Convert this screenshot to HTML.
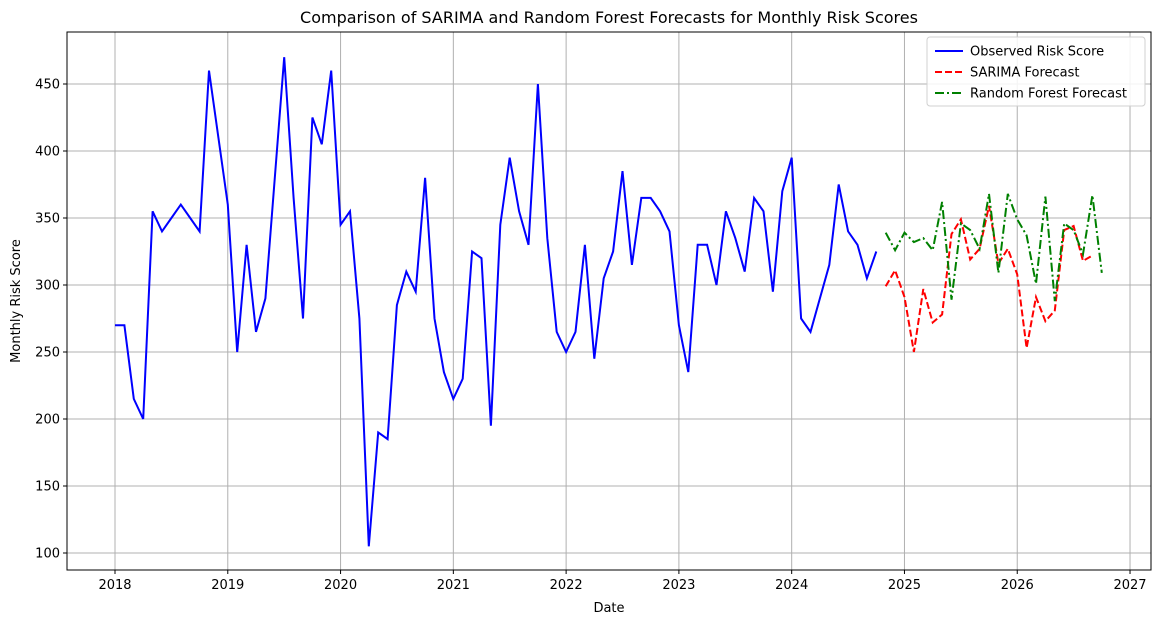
<!DOCTYPE html>
<html><head><meta charset="utf-8"><style>
body{margin:0;background:#fff;font-family:"Liberation Sans","DejaVu Sans",sans-serif}
svg text{font-family:"DejaVu Sans","Liberation Sans",sans-serif}
</style></head><body>
<svg id="c" width="1160" height="624" xmlns="http://www.w3.org/2000/svg"></svg>
<script>
const observedStartYear = 2018;
const observed = [270,270,215,200,355,340,350,360,350,340,460,410,
360,250,330,265,290,380,470,365,275,425,405,460,
345,355,275,105,190,185,285,310,295,380,275,235,
215,230,325,320,195,345,395,355,330,450,335,265,
250,265,330,245,305,325,385,315,365,365,355,340,
270,235,330,330,300,355,335,310,365,355,295,370,
395,275,265,290,315,375,340,330,305,325];
const forecastStartMonth = 82; // months after Jan 2018 (Nov 2024)
const sarima = [299,311,291,250,297,272,278,338,349,319,327,359,316,327,308,253,291,273,281,341,344,318,322];
const rf = [339,326,339,332,335,326,362,289,346,341,327,368,309,368,349,337,301,366,288,346,341,323,367,309];
const xTicks = [2018,2019,2020,2021,2022,2023,2024,2025,2026,2027];
const yTicks = [100,150,200,250,300,350,400,450];

const NS="http://www.w3.org/2000/svg", svg=document.getElementById('c');
const L=67,R=1151,T=32,B=570;
const xs = yr => 115 + (yr-2018)*112.78;
const xm = m => xs(observedStartYear + m/12);
const ys = v => 553 - (v-100)*1.34;
function mk(tag, attrs, parent){const e=document.createElementNS(NS,tag);for(const k in attrs)e.setAttribute(k,attrs[k]);(parent||svg).appendChild(e);return e;}

const grid=mk('g',{});


xTicks.forEach(t=>{
  const x=xs(t);
  mk('line',{x1:x,x2:x,y1:T,y2:B,stroke:'#b0b0b0','stroke-width':1},grid);
  mk('line',{x1:x,x2:x,y1:B,y2:B+4,stroke:'#000'},grid);
  const tx=mk('text',{x:x,y:B+19,'text-anchor':'middle','font-size':13},grid);
  tx.textContent=t;
  
  
});
yTicks.forEach(t=>{
  const y=ys(t);
  mk('line',{x1:L,x2:R,y1:y,y2:y,stroke:'#b0b0b0','stroke-width':1},grid);
  mk('line',{x1:L-4,x2:L,y1:y,y2:y,stroke:'#000'},grid);
  const tx=mk('text',{x:L-7,y:y+4.5,'text-anchor':'end','font-size':13},grid);
  tx.textContent=t;
  
  
});

function line(vals, start, color, dash, name){
  const p=mk('polyline',{points:vals.map((v,i)=>xm(start+i).toFixed(1)+','+ys(v).toFixed(1)).join(' '),fill:'none',stroke:color,'stroke-width':2,'stroke-dasharray':dash});
  
  
}
line(observed,0,'#0000ff','none','observed-line');
line(sarima,forecastStartMonth,'#ff0000','7,3','sarima-line');
line(rf,forecastStartMonth,'#008000','9,3,2,3','rf-line');

const fr=mk('rect',{x:L,y:T,width:R-L,height:B-T,fill:'none',stroke:'#000','stroke-width':1});



const ti=mk('text',{x:(L+R)/2,y:23,'text-anchor':'middle','font-size':16});
ti.textContent='Comparison of SARIMA and Random Forest Forecasts for Monthly Risk Scores';


const xl=mk('text',{x:(L+R)/2,y:612,'text-anchor':'middle','font-size':13});
xl.textContent='Date';


const yl=mk('text',{x:0,y:0,'text-anchor':'middle','font-size':13,transform:'translate(20,301) rotate(-90)'});
yl.textContent='Monthly Risk Score';



const lg=mk('g',{});


mk('rect',{x:927,y:37,width:218,height:69,rx:3,fill:'#fff','fill-opacity':0.85,stroke:'#d0d0d0'},lg);
[['Observed Risk Score','#0000ff','none'],['SARIMA Forecast','#ff0000','7,3'],['Random Forest Forecast','#008000','9,3,2,3']].forEach((e,i)=>{
  const y=51+i*21;
  mk('line',{x1:935,x2:963,y1:y,y2:y,stroke:e[1],'stroke-width':2,'stroke-dasharray':e[2]},lg);
  const t=mk('text',{x:970,y:y+4.5,'font-size':13},lg);
  t.textContent=e[0];
  
  
});
</script>
</body></html>
